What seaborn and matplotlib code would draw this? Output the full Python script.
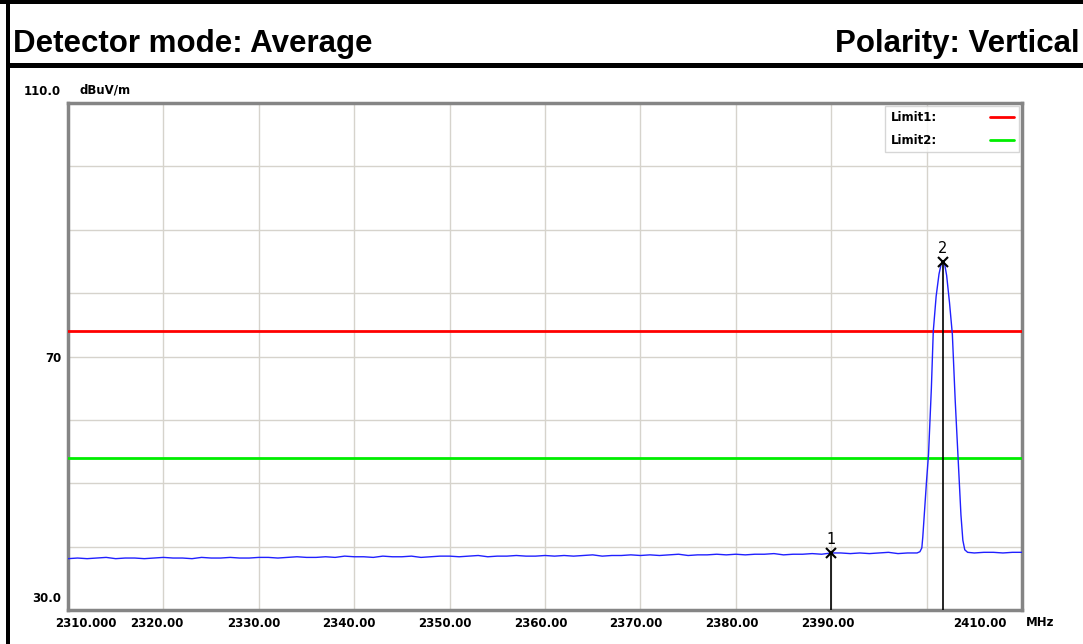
import numpy as np
import pandas as pd
import matplotlib
matplotlib.use("Agg")
import matplotlib.pyplot as plt
import matplotlib.transforms as mtransforms
from matplotlib.patches import Rectangle
import seaborn as sns

# trace (MHz, dBuV/m)
base_freq = list(range(2310, 2400))
base_level = [
    38.1, 38.2, 38.1, 38.2, 38.3, 38.1, 38.2, 38.2, 38.1, 38.2,
    38.3, 38.2, 38.2, 38.1, 38.3, 38.2, 38.2, 38.3, 38.2, 38.2,
    38.3, 38.3, 38.2, 38.3, 38.4, 38.3, 38.3, 38.4, 38.3, 38.5,
    38.4, 38.4, 38.3, 38.5, 38.4, 38.4, 38.5, 38.3, 38.4, 38.5,
    38.5, 38.4, 38.5, 38.6, 38.4, 38.5, 38.5, 38.6, 38.5, 38.5,
    38.6, 38.5, 38.6, 38.5, 38.6, 38.7, 38.5, 38.6, 38.6, 38.7,
    38.6, 38.7, 38.6, 38.7, 38.8, 38.6, 38.7, 38.7, 38.8, 38.7,
    38.8, 38.7, 38.8, 38.8, 38.9, 38.7, 38.8, 38.8, 38.9, 38.8,
    39.0, 39.0, 38.9, 39.0, 38.9, 39.0, 39.1, 38.9, 39.0, 39.0,
]
peak_freq = [2399.3, 2399.5, 2399.6, 2399.8, 2400.0, 2400.2, 2400.5, 2400.7,
             2401.0, 2401.3, 2401.5, 2401.7, 2401.9, 2402.1, 2402.4, 2402.7,
             2403.0, 2403.3, 2403.6, 2403.8, 2404.0, 2404.3]
peak_level = [39.2, 39.8, 41.5, 46.0, 50.5, 54.5, 65.0, 74.0,
              79.5, 83.0, 84.4, 84.9, 84.5, 82.8, 78.5, 73.5,
              63.0, 54.0, 45.0, 41.0, 39.5, 39.1]
tail_freq = [2405, 2406, 2407, 2408, 2409, 2410]
tail_level = [39.0, 39.1, 39.1, 39.0, 39.1, 39.1]

limit1 = 74.0
limit2 = 54.0

marker_ids = ["1", "2"]
marker_freq = [2390.0, 2401.7]
marker_level = [39.0, 84.9]

x_ticks = list(range(2310, 2411, 10))
x_labels = ["2310.000", "2320.00", "2330.00", "2340.00", "2350.00", "2360.00",
            "2370.00", "2380.00", "2390.00", "", "2410.00"]
y_ticks = list(range(30, 111, 10))
y_labels = ["30.0", "", "", "", "70", "", "", "", "110.0"]

trace = pd.DataFrame({
    "freq": base_freq + peak_freq + tail_freq,
    "level": base_level + peak_level + tail_level,
})

sns.set_style("white")
plt.rcParams["font.family"] = ["DejaVu Sans"]
plt.rcParams["text.color"] = "black"
plt.rcParams["xtick.color"] = "black"
plt.rcParams["ytick.color"] = "black"

W, H = 1083, 644
fig = plt.figure(figsize=(W / 100, H / 100), dpi=100)

# report frame lines
fig.add_artist(Rectangle((0, 1 - 4 / H), 1, 4 / H, transform=fig.transFigure, color="black", lw=0))
fig.add_artist(Rectangle((6 / W, 0), 4 / W, 1, transform=fig.transFigure, color="black", lw=0))
fig.add_artist(Rectangle((6 / W, 1 - 68 / H), 1, 5 / H, transform=fig.transFigure, color="black", lw=0))

fig.text(13 / W, 1 - 52 / H, "Detector mode: Average", fontsize=22.5, fontweight="bold",
         family="Liberation Sans", va="baseline", ha="left", color="black")
fig.text(1080 / W, 1 - 52 / H, "Polarity: Vertical", fontsize=22.5, fontweight="bold",
         family="Liberation Sans", va="baseline", ha="right", color="black")

ax = fig.add_axes([68 / W, 1 - 610 / H, (1022 - 68) / W, (610 - 103) / H])

ax.axhline(limit1, color="#ff0000", lw=2, label="Limit1:", zorder=3)
ax.axhline(limit2, color="#00ee00", lw=2, label="Limit2:", zorder=3)

sns.lineplot(data=trace, x="freq", y="level", ax=ax, color="#2020ff", lw=1,
             sort=False, estimator=None, zorder=4)

for mid, mf, ml in zip(marker_ids, marker_freq, marker_level):
    ax.plot([mf, mf], [30, ml], color="black", lw=1.2, zorder=5)
    ax.plot(mf, ml, marker="x", color="black", ms=7, mew=1.5, zorder=6)
    ax.text(mf, ml + 1.0, mid, ha="center", va="bottom", fontsize=10.5, zorder=6)

ax.set_xlim(2310, 2410)
ax.set_ylim(30, 110)
ax.set_xticks(x_ticks)
ax.set_xticklabels(x_labels, fontsize=8.5, fontweight="bold")
ax.set_yticks(y_ticks)
ax.set_yticklabels(y_labels, fontsize=8.5, fontweight="bold")
ax.set_xlabel("")
ax.set_ylabel("")
ax.tick_params(length=0)
ax.tick_params(axis="x", pad=5)
ax.tick_params(axis="y", pad=5)
ax.grid(True, color="#d6d3cc", lw=1)
ax.set_axisbelow(True)
for sp in ax.spines.values():
    sp.set_color("#858585")
    sp.set_linewidth(2.5)

# shift some tick labels the way the analyzer prints them
x_shift = [18, -7, -5, -5, -5, -4, -5, -4, -3, 0, -42]
for lab, dx in zip(ax.get_xticklabels(), x_shift):
    lab.set_transform(lab.get_transform() + mtransforms.ScaledTranslation(dx / 100, 0, fig.dpi_scale_trans))
for lab, t in zip(ax.get_yticklabels(), y_ticks):
    if t in (30, 110):
        lab.set_transform(lab.get_transform() + mtransforms.ScaledTranslation(0, 13 / 100, fig.dpi_scale_trans))

fig.text(80 / W, 1 - 90 / H, "dBuV/m", fontsize=8.5, fontweight="bold", va="center", ha="left")
fig.text(1026 / W, 1 - 622 / H, "MHz", fontsize=8.5, fontweight="bold", va="center", ha="left")

leg = ax.legend(loc="upper right", markerfirst=False, frameon=True, fancybox=False,
                prop={"size": 8.5, "weight": "bold"}, handlelength=2.0, handletextpad=4.5,
                borderaxespad=0.25, labelspacing=0.8, borderpad=0.45)
leg.get_frame().set_edgecolor("#cccccc")
leg.get_frame().set_linewidth(1)
for t in leg.get_texts():
    t.set_ha("left")
    t.set_color("black")

fig.savefig("out.png", dpi=100, facecolor="white")
